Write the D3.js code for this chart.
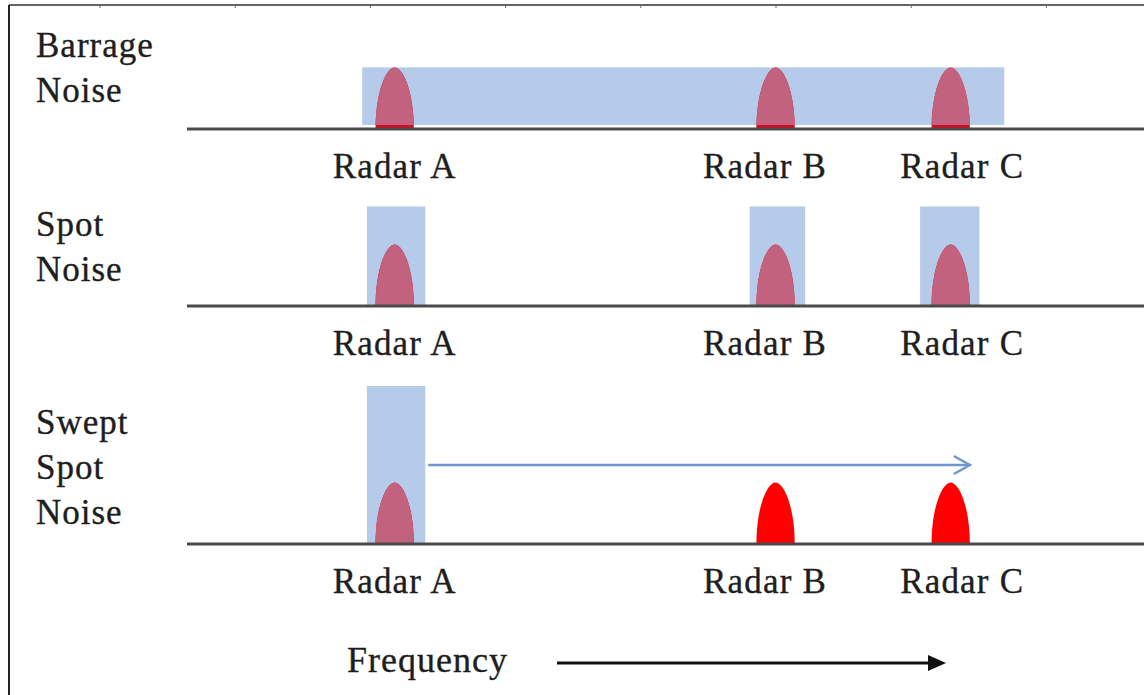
<!DOCTYPE html>
<html>
  <head>
    <meta charset="utf-8">
    <script src="https://d3js.org/d3.v7.min.js"></script>
    <title>Jamming types</title>
    <style>
      body { margin: 0; background: #fff; }
      text { font-family: "Liberation Serif", "DejaVu Serif", serif; fill: #1e1e1e; stroke: #1e1e1e; stroke-width: 0.35; }
    </style>
  </head>
  <body>
    <div id="chart"></div>
    <script>
      // Frequency is in arbitrary units (0-100), power in arbitrary levels (0-10)
      const radars = ["Radar A", "Radar B", "Radar C"];
      const radarFreq = [21.7, 61.5, 79.8];
      const radarLabelFreq = [21.7, 60.4, 81.0];
      const radarWidth = 4.0;   // bandwidth of each radar pulse
      const radarLevel = 3.9;

      const rowNames = [["Barrage", "Noise"], ["Spot", "Noise"], ["Swept", "Spot", "Noise"]];
      // jamming bands per row: [start, end]
      const barrageBand = [[18.3, 85.4]];
      const spotBands = [[18.8, 24.9], [58.8, 64.6], [76.6, 82.8]];
      const sweptBands = [[18.8, 24.9]];
      const jamLevels = [3.9, 6.3, 10];
      const sweepRange = [25.2, 81.8];

      const W = 1144, H = 695;
      const svg = d3.select("#chart").append("svg")
        .attr("width", W).attr("height", H);

      const x = d3.scaleLinear().domain([0, 100]).range([187, 1144]);
      const h = d3.scaleLinear().domain([0, 10]).range([0, 158]);

      // frame: top and left border
      svg.append("line").attr("x1", 9).attr("x2", W).attr("y1", 5).attr("y2", 5)
        .attr("stroke", "#666").attr("stroke-width", 2);
      svg.append("line").attr("x1", 9).attr("x2", 9).attr("y1", 5).attr("y2", H)
        .attr("stroke", "#222").attr("stroke-width", 2);
      svg.selectAll(".tick").data(d3.range(8)).enter().append("line")
        .attr("x1", d => 100 + d * 135.2).attr("x2", d => 100 + d * 135.2)
        .attr("y1", 5).attr("y2", 8).attr("stroke", "#666");

      const rows = [
        { base: 129, bands: barrageBand, jammed: [true, true, true], nameY: 57 },
        { base: 306, bands: spotBands, jammed: [true, true, true], nameY: 236 },
        { base: 544, bands: sweptBands, jammed: [true, false, false], nameY: 434 }
      ];

      function bump(cx, base, w, ht) {
        const p = d3.path();
        p.moveTo(cx - w / 2, base);
        p.bezierCurveTo(cx - w / 2, base - ht * 0.6, cx - w * 0.22, base - ht, cx, base - ht);
        p.bezierCurveTo(cx + w * 0.22, base - ht, cx + w / 2, base - ht * 0.6, cx + w / 2, base);
        p.closePath();
        return p.toString();
      }

      const bumpW = x(radarWidth) - x(0);

      rows.forEach((row, ri) => {
        const g = svg.append("g");
        const jamH = h(jamLevels[ri]);
        // jammer bands: rectangles from baseline (barrage sits just above the line)
        const gap = ri === 0 ? 4 : 0;
        const clipId = "clip" + ri;
        const clip = svg.append("clipPath").attr("id", clipId);
        row.bands.forEach(b => {
          g.append("rect")
            .attr("x", x(b[0])).attr("width", x(b[1]) - x(b[0]))
            .attr("y", row.base - jamH).attr("height", jamH - gap)
            .attr("fill", "#b6cbe9");
          clip.append("rect")
            .attr("x", x(b[0])).attr("width", x(b[1]) - x(b[0]))
            .attr("y", row.base - jamH).attr("height", jamH - gap);
        });

        // radar pulses: red, pink where covered by jamming
        radars.forEach((r, i) => {
          const d = bump(x(radarFreq[i]), row.base, bumpW, h(radarLevel));
          g.append("path").attr("d", d).attr("fill", row.jammed[i] ? "#d60a1e" : "#ff0000");
          g.append("path").attr("d", d).attr("fill", "#c2627f")
            .attr("clip-path", "url(#" + clipId + ")");
        });

        // baseline
        g.append("line").attr("x1", x(0)).attr("x2", x(100))
          .attr("y1", row.base).attr("y2", row.base)
          .attr("stroke", "#4a4a4a").attr("stroke-width", 3);

        // radar labels
        g.selectAll(".lbl").data(radars).enter().append("text")
          .attr("x", (d, i) => x(radarLabelFreq[i]))
          .attr("y", row.base + 49)
          .attr("text-anchor", "middle")
          .attr("font-size", 35)
          .attr("letter-spacing", 1.2)
          .text(d => d);

        // row name
        g.selectAll(".name").data(rowNames[ri]).enter().append("text")
          .attr("x", 36).attr("y", (d, i) => row.nameY + i * 45)
          .attr("font-size", 35)
          .attr("letter-spacing", 1)
          .text(d => d);
      });

      // sweep arrow
      const sy = 465;
      svg.append("line").attr("x1", x(sweepRange[0])).attr("x2", x(sweepRange[1]))
        .attr("y1", sy).attr("y2", sy).attr("stroke", "#6f97cf").attr("stroke-width", 2.5);
      svg.append("path")
        .attr("d", `M${x(sweepRange[1]) - 16},${sy - 9} L${x(sweepRange[1])},${sy} L${x(sweepRange[1]) - 16},${sy + 9}`)
        .attr("fill", "none").attr("stroke", "#6f97cf").attr("stroke-width", 2.5);

      // frequency axis label and arrow
      svg.append("text").attr("x", 347).attr("y", 672).attr("font-size", 36)
        .attr("letter-spacing", 1).text("Frequency");
      svg.append("line").attr("x1", 557).attr("x2", 932).attr("y1", 663).attr("y2", 663)
        .attr("stroke", "#111").attr("stroke-width", 3);
      svg.append("path").attr("d", "M928,655 L946,663 L928,671 Z").attr("fill", "#111");
    </script>
  </body>
</html>
